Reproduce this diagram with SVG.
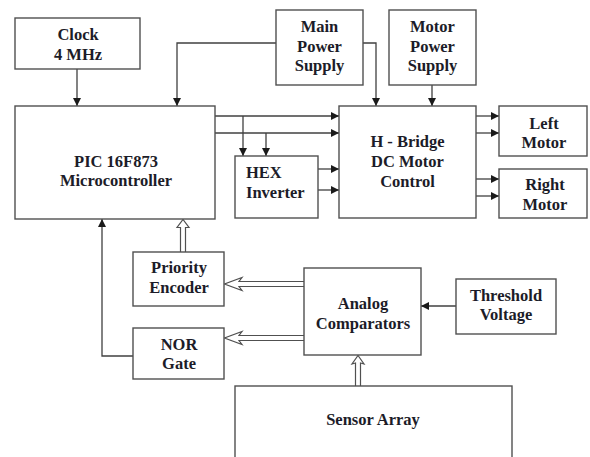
<svg xmlns="http://www.w3.org/2000/svg" width="590" height="457" viewBox="0 0 590 457">
<defs>
<style>
.box{fill:#fff;stroke:#505050;stroke-width:1.4}
.t{font-family:"Liberation Serif","Times New Roman",serif;font-weight:bold;font-size:16.5px;fill:#1c1c28;text-anchor:middle}
.ts{text-anchor:start}
.ln{fill:none;stroke:#404040;stroke-width:1.3}
.ha{fill:#fff;stroke:#505050;stroke-width:1.2}
</style>
<marker id="ah" viewBox="0 0 10 10" refX="10" refY="5" markerWidth="8" markerHeight="8" markerUnits="userSpaceOnUse" orient="auto">
<path d="M0,0 L10,5 L0,10 Z" fill="#1a1a1a"/>
</marker>
</defs>
<rect width="590" height="457" fill="#fff"/>

<g id="connectors">
<path class="ln" d="M77,69 V106" marker-end="url(#ah)"/>
<path class="ln" d="M276,43 H177 V106" marker-end="url(#ah)"/>
<path class="ln" d="M363,43 H376 V106" marker-end="url(#ah)"/>
<path class="ln" d="M432,85 V106" marker-end="url(#ah)"/>
<path class="ln" d="M215,116 H339" marker-end="url(#ah)"/>
<path class="ln" d="M215,133 H339" marker-end="url(#ah)"/>
<path class="ln" d="M243,116 V156" marker-end="url(#ah)"/>
<path class="ln" d="M266,133 V156" marker-end="url(#ah)"/>
<path class="ln" d="M318,169 H339" marker-end="url(#ah)"/>
<path class="ln" d="M318,190 H339" marker-end="url(#ah)"/>
<path class="ln" d="M476,116 H499" marker-end="url(#ah)"/>
<path class="ln" d="M476,133 H499" marker-end="url(#ah)"/>
<path class="ln" d="M476,179 H499" marker-end="url(#ah)"/>
<path class="ln" d="M476,196 H499" marker-end="url(#ah)"/>
<path class="ln" d="M133,356 H102 V219" marker-end="url(#ah)"/>
<path class="ln" d="M456,306 H421" marker-end="url(#ah)"/>
<path class="ha" d="M180.5,252 V227.5 H177 L183,219.5 L189,227.5 H185.5 V252"/>
<path class="ha" d="M304,281.5 H239 L242,277.5 L224.5,284 L242,290.5 L239,286.5 H304"/>
<path class="ha" d="M304,335.5 H239 L242,331.5 L224.5,338 L242,344.5 L239,340.5 H304"/>
<path class="ha" d="M355.5,386 V363 L352,364 L358,355.5 L364,364 L360.5,363 V386"/>
</g>

<g id="clock">
<rect class="box" x="15" y="18" width="125" height="51"/>
<text class="t" x="78" y="40">Clock</text>
<text class="t" x="78" y="60">4 MHz</text>
</g>
<g id="pic">
<rect class="box" x="15" y="106" width="200" height="113"/>
<text class="t" x="116" y="167">PIC 16F873</text>
<text class="t" x="116" y="186">Microcontroller</text>
</g>
<g id="main-power">
<rect class="box" x="276" y="10" width="87" height="75"/>
<text class="t" x="319.5" y="32">Main</text>
<text class="t" x="319.5" y="51.5">Power</text>
<text class="t" x="319.5" y="71">Supply</text>
</g>
<g id="motor-power">
<rect class="box" x="389" y="10" width="87" height="75"/>
<text class="t" x="432.5" y="32">Motor</text>
<text class="t" x="432.5" y="51.5">Power</text>
<text class="t" x="432.5" y="71">Supply</text>
</g>
<g id="hbridge">
<rect class="box" x="339" y="106" width="137" height="112"/>
<text class="t" x="407.5" y="147">H - Bridge</text>
<text class="t" x="407.5" y="167">DC Motor</text>
<text class="t" x="407.5" y="187">Control</text>
</g>
<g id="hex">
<rect class="box" x="235" y="156" width="83" height="62"/>
<text class="t ts" x="246" y="178">HEX</text>
<text class="t ts" x="246" y="198">Inverter</text>
</g>
<g id="left-motor">
<rect class="box" x="499" y="106" width="88" height="50"/>
<text class="t" x="544" y="129">Left</text>
<text class="t" x="544" y="148">Motor</text>
</g>
<g id="right-motor">
<rect class="box" x="499" y="169" width="88" height="49"/>
<text class="t" x="545" y="190">Right</text>
<text class="t" x="545" y="210">Motor</text>
</g>
<g id="priority">
<rect class="box" x="133" y="252" width="91" height="54"/>
<text class="t" x="179" y="273">Priority</text>
<text class="t" x="179" y="293">Encoder</text>
</g>
<g id="nor">
<rect class="box" x="133" y="328" width="91" height="51"/>
<text class="t" x="179" y="350">NOR</text>
<text class="t" x="179" y="369">Gate</text>
</g>
<g id="analog">
<rect class="box" x="304" y="268" width="117" height="87"/>
<text class="t" x="363" y="309">Analog</text>
<text class="t" x="363" y="329">Comparators</text>
</g>
<g id="threshold">
<rect class="box" x="456" y="279" width="100" height="55"/>
<text class="t" x="506" y="301">Threshold</text>
<text class="t" x="506" y="320">Voltage</text>
</g>
<g id="sensor">
<rect class="box" x="235" y="386" width="277" height="90"/>
<text class="t" x="373" y="425">Sensor Array</text>
</g>
</svg>
